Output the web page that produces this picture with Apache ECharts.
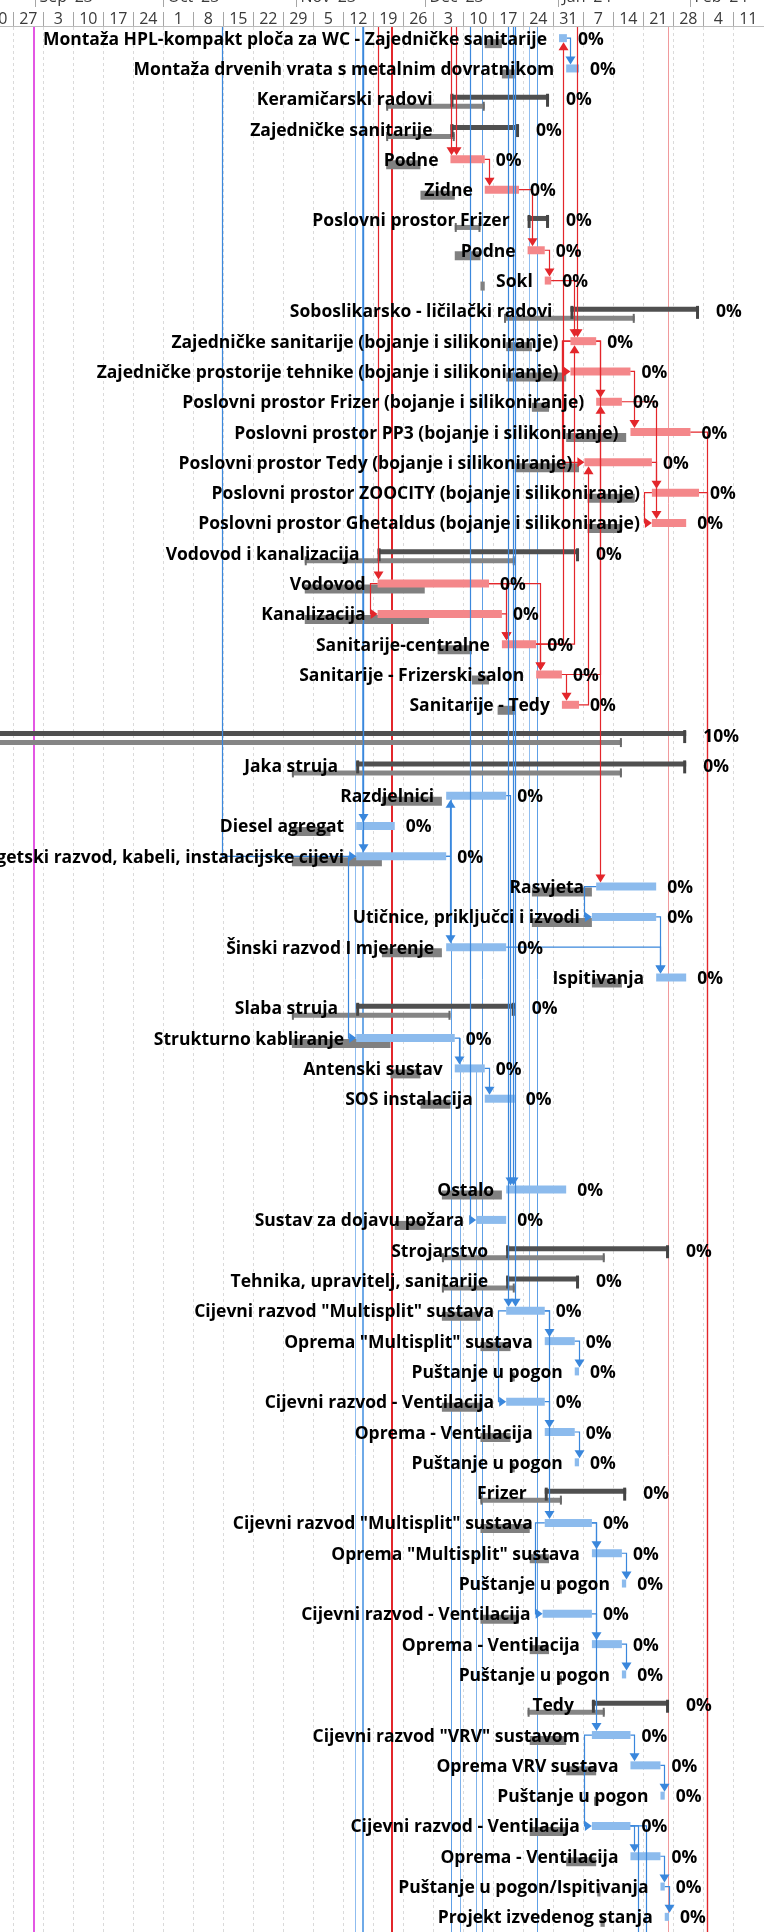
<!DOCTYPE html>
<html>
<head>
<meta charset="utf-8">
<script src="https://cdn.jsdelivr.net/npm/echarts@6/dist/echarts.min.js"></script>
<style>
  html, body { margin: 0; padding: 0; background: #ffffff; }
  #chart { width: 764px; height: 1932px; }
</style>
</head>
<body>
<div id="chart"></div>
<script>
// ---------- timescale ----------
const weekDates = ['2023-08-20','2023-08-27','2023-09-03','2023-09-10','2023-09-17','2023-09-24',
  '2023-10-01','2023-10-08','2023-10-15','2023-10-22','2023-10-29','2023-11-05','2023-11-12',
  '2023-11-19','2023-11-26','2023-12-03','2023-12-10','2023-12-17','2023-12-24','2023-12-31',
  '2024-01-07','2024-01-14','2024-01-21','2024-01-28','2024-02-04','2024-02-11'];
const weekLabels = ['20','27','3','10','17','24','1','8','15','22','29','5','12',
  '19','26','3','10','17','24','31','7','14','21','28','4','11'];
const monthDates = ['2023-09-01','2023-10-01','2023-11-01','2023-12-01','2024-01-01','2024-02-01'];
const monthLabels = ["Sep '23","Oct '23","Nov '23","Dec '23","Jan '24","Feb '24"];

// ---------- tasks ----------
const taskNames = [
  'Montaža HPL-kompakt ploča za WC - Zajedničke sanitarije',
  'Montaža drvenih vrata s metalnim dovratnikom',
  'Keramičarski radovi',
  'Zajedničke sanitarije',
  'Podne',
  'Zidne',
  'Poslovni prostor Frizer',
  'Podne',
  'Sokl',
  'Soboslikarsko - ličilački radovi',
  'Zajedničke sanitarije (bojanje i silikoniranje)',
  'Zajedničke prostorije tehnike (bojanje i silikoniranje)',
  'Poslovni prostor Frizer (bojanje i silikoniranje)',
  'Poslovni prostor PP3 (bojanje i silikoniranje)',
  'Poslovni prostor Tedy (bojanje i silikoniranje)',
  'Poslovni prostor ZOOCITY (bojanje i silikoniranje)',
  'Poslovni prostor Ghetaldus (bojanje i silikoniranje)',
  'Vodovod i kanalizacija',
  'Vodovod',
  'Kanalizacija',
  'Sanitarije-centralne',
  'Sanitarije - Frizerski salon',
  'Sanitarije - Tedy',
  'Elektroinstalacije',
  'Jaka struja',
  'Razdjelnici',
  'Diesel agregat',
  'Energetski razvod, kabeli, instalacijske cijevi',
  'Rasvjeta',
  'Utičnice, priključci i izvodi',
  'Šinski razvod I mjerenje',
  'Ispitivanja',
  'Slaba struja',
  'Strukturno kabliranje',
  'Antenski sustav',
  'SOS instalacija',
  '',
  '',
  'Ostalo',
  'Sustav za dojavu požara',
  'Strojarstvo',
  'Tehnika, upravitelj, sanitarije',
  'Cijevni razvod "Multisplit" sustava',
  'Oprema "Multisplit" sustava',
  'Puštanje u pogon',
  'Cijevni razvod - Ventilacija',
  'Oprema - Ventilacija',
  'Puštanje u pogon',
  'Frizer',
  'Cijevni razvod "Multisplit" sustava',
  'Oprema "Multisplit" sustava',
  'Puštanje u pogon',
  'Cijevni razvod - Ventilacija',
  'Oprema - Ventilacija',
  'Puštanje u pogon',
  'Tedy',
  'Cijevni razvod "VRV" sustavom',
  'Oprema VRV sustava',
  'Puštanje u pogon',
  'Cijevni razvod - Ventilacija',
  'Oprema - Ventilacija',
  'Puštanje u pogon/Ispitivanja',
  'Projekt izvedenog stanja'
];
// C = critical task, N = task, S = summary, '' = blank row
const taskKinds = ['N','N','S','S','C','C','S','C','C','S',
  'C','C','C','C','C','C','C','S','C','C',
  'C','C','C','S','S','N','N','N','N','N',
  'N','N','S','N','N','N','','','N','N',
  'S','S','N','N','N','N','N','N','S','N',
  'N','N','N','N','N','S','N','N','N','N',
  'N','N','N'];
const taskStart = ['2024-01-01 08:00','2024-01-03','2023-12-07','2023-12-07','2023-12-07','2023-12-15','2023-12-25','2023-12-25','2023-12-29','2024-01-04',
  '2024-01-04','2024-01-04','2024-01-10','2024-01-18','2024-01-07 06:00','2024-01-23','2024-01-23','2023-11-20','2023-11-20','2023-11-20',
  '2023-12-19','2023-12-27','2024-01-02','2023-07-01','2023-11-15','2023-12-06','2023-11-15','2023-11-15','2024-01-10','2024-01-09',
  '2023-12-06','2024-01-24','2023-11-15','2023-11-15','2023-12-08','2023-12-15','','','2023-12-20','2023-12-13',
  '2023-12-20','2023-12-20','2023-12-20','2023-12-29','2024-01-05','2023-12-20','2023-12-29','2024-01-05','2023-12-29','2023-12-29',
  '2024-01-09','2024-01-16','2023-12-28 12:00','2024-01-09','2024-01-16','2024-01-09','2024-01-09','2024-01-18','2024-01-25','2024-01-09',
  '2024-01-18','2024-01-25','2024-01-26'];
const taskEnd = ['2024-01-03 04:00','2024-01-06','2023-12-30','2023-12-23','2023-12-15','2023-12-23','2023-12-30','2023-12-29','2023-12-30 12:00','2024-02-03',
  '2024-01-10','2024-01-18','2024-01-16','2024-02-01','2024-01-23','2024-02-03','2024-01-31','2024-01-06','2023-12-16','2023-12-19',
  '2023-12-27','2024-01-02','2024-01-06','2024-01-31','2024-01-31','2023-12-20','2023-11-24','2023-12-06','2024-01-24','2024-01-24',
  '2023-12-20','2024-01-31','2023-12-22','2023-12-08','2023-12-15','2023-12-22','','','2024-01-03','2023-12-20',
  '2024-01-27','2024-01-06','2023-12-29','2024-01-05','2024-01-06','2023-12-29','2024-01-05','2024-01-06','2024-01-17','2024-01-09',
  '2024-01-16','2024-01-17','2024-01-09','2024-01-16','2024-01-17','2024-01-27','2024-01-18','2024-01-25','2024-01-26','2024-01-18',
  '2024-01-25','2024-01-26','2024-01-27'];
const baseStart = ['2023-12-15','2023-12-19','2023-11-22','2023-11-22','2023-11-22','2023-11-30','2023-12-08','2023-12-08','2023-12-14','2023-12-19 12:00',
  '2023-12-20','2023-12-20','2023-12-26','2024-01-03','2023-12-22','2024-01-08','2024-01-08','2023-11-03','2023-11-03','2023-11-03',
  '2023-12-04','2023-12-12','2023-12-18','2023-07-01','2023-10-31','2023-11-21','2023-10-31','2023-10-31','2023-12-26','2023-12-26',
  '2023-11-21','2024-01-09','2023-10-31','2023-10-31','2023-11-23','2023-11-30','','','2023-12-05','2023-11-24',
  '2023-12-05','2023-12-05','2023-12-05','2023-12-14','2023-12-21','2023-12-05','2023-12-14','2023-12-21','2023-12-14','2023-12-14',
  '2023-12-25 12:00','2024-01-01','2023-12-14','2023-12-25 12:00','2024-01-01','2023-12-25','2023-12-25 12:00','2024-01-03','2024-01-09 12:00','2023-12-25 12:00',
  '2024-01-03','2024-01-10 06:00','2024-01-11'];
const baseEnd = ['2023-12-19','2023-12-22','2023-12-15','2023-12-08','2023-11-30','2023-12-08','2023-12-14','2023-12-14','2023-12-15','2024-01-19',
  '2023-12-26','2024-01-03','2023-12-30','2024-01-17','2024-01-06','2024-01-19','2024-01-16','2023-12-22','2023-12-01','2023-12-02',
  '2023-12-12','2023-12-16','2023-12-22','2024-01-16','2024-01-16','2023-12-05','2023-11-09','2023-11-21','2024-01-09','2024-01-09',
  '2023-12-05','2024-01-16','2023-12-07','2023-11-23','2023-11-30','2023-12-07','','','2023-12-19','2023-12-01',
  '2024-01-12','2023-12-22','2023-12-14','2023-12-21','2023-12-22','2023-12-14','2023-12-21','2023-12-22','2024-01-02','2023-12-25 12:00',
  '2023-12-30','2024-01-02','2023-12-23','2023-12-30','2024-01-02','2024-01-12','2024-01-03','2024-01-10','2024-01-10 12:00','2024-01-03',
  '2024-01-10','2024-01-11','2024-01-12'];
const taskPct = taskKinds.map((k, i) => (k ? (i === 23 ? '10%' : '0%') : ''));

// ---------- dependencies between rows (1-based) ----------
const linkFrom = [5, 6, 8, 9, 21, 11, 12, 13, 15, 11, 11, 16, 23, 22, 19, 20, 19, 21, 19, 22, 21, 11,
  1, 28, 28, 26, 28, 34, 35, 29, 30, 31, 43, 44, 46, 47, 43, 43, 50, 51, 50, 53, 54, 50, 57, 58, 57, 60, 61, 62];
const linkTo = [6, 8, 9, 11, 11, 13, 14, 16, 17, 12, 15, 17, 15, 13, 21, 21, 20, 22, 22, 23, 1, 29,
  2, 26, 31, 39, 34, 35, 36, 30, 32, 32, 44, 45, 47, 48, 46, 50, 51, 52, 53, 54, 55, 57, 58, 59, 60, 61, 62, 63];
const linkKind = ['FS','FS','FS','FS','FS','FS','FS','FS','FS','SS','SS','SS','FS','FS','FS','FS','SS','FS','FS','FS','FS','FS',
  'FS','FS','FS','FS','SS','FS','FS','SS','FS','FS','FS','FS','FS','FS','SS','FS','FS','FS','SS','FS','FS','FS','FS','FS','SS','FS','FS','FS'];

// links arriving from tasks above the visible rows
const inTo    = [5, 5, 19, 27, 28, 28, 39, 40, 43, 43, 11];
const inDate  = ['2023-12-07 02:00','2023-12-08 06:00','2023-11-20','2023-11-16 14:00','2023-11-16 14:00',
  '2023-10-14 17:00','2023-12-21 14:00','2023-12-11 14:00','2023-12-20 10:00','2023-12-22','2024-01-05 12:00'];
const inColor = ['r','r','r','b','b','b','b','b','b','b','r'];
const inEntry = ['down','down','down','down','down','side','down','side','down','down','down'];

// links leaving to tasks below the visible rows
const outFrom  = [14, 16, 60, 60];
const outDate  = ['2024-02-04 22:00','2024-02-04 22:00','2024-01-19 19:00','2024-01-21 14:00'];
const outColor = ['r','r','b','b'];

// connector lines passing through the view (row 0 = top edge, 64 = bottom edge)
const runDate  = ['2023-08-31 21:30','2023-11-14 20:10','2023-11-16 14:10','2023-11-23 08:40','2024-01-26 18:15',
  '2023-12-27 04:50','2023-12-14 11:20','2023-12-07 03:00','2023-12-09 08:00','2023-12-13','2023-12-25 08:00'];
const runFrom  = [0, 0, 0, 0, 0, 0, 0, 26, 34, 35, 0];
const runTo    = [64, 64, 64, 64, 64, 64, 64, 64, 64, 64, 43];
const runColor = ['#e357e3','#8fbdf0','#3f8ee0','#e3262b','#f09a9c','#5d9fe6','#5d9fe6','#5d9fe6','#7fb2ea','#7fb2ea','#8fbdf0'];
const runWidth = [2, 1, 1.5, 2, 1, 1, 1, 1, 1, 1, 1];

// ---------- helpers ----------
function T(s) {
  const p = s.split(/[- :]/).map(Number);
  return Date.UTC(p[0], p[1] - 1, p[2], p[3] || 0, p[4] || 0);
}
const X_MIN = Date.UTC(2023, 7, 23, 21, 20);
const X_MAX = Date.UTC(2024, 1, 18, 3, 50);
const HEAD = 27;
const H = 1932;
const FONT = '700 17.5px "Open Sans"';
const COL = {
  crit: '#f4878a', task: '#8cbbed', base: '#808080', sum: '#505050', baseSum: '#858585',
  grid: '#dadada'
};
const LINE = { r: '#e3262b', b: '#3a87dc' };

const rect = (x, y, w, h, fill) => ({ type: 'rect', shape: { x, y, width: w, height: h }, style: { fill } });
const vline = (x, y1, y2, stroke, w) => ({ type: 'line', shape: { x1: x, y1, x2: x, y2 }, style: { stroke, lineWidth: w } });
const crisp = x => Math.round(x) + 0.5;

function px(api, d, row) { return api.coord([T(d), row === undefined ? 1 : row]); }
function rowY(api, row) { return api.coord([X_MIN, row])[1]; }

function arrowDown(x, tipY, fill) {
  return { type: 'polygon', shape: { points: [[x - 5, tipY - 8], [x + 5, tipY - 8], [x, tipY]] }, style: { fill } };
}
function arrowUp(x, tipY, fill) {
  return { type: 'polygon', shape: { points: [[x - 5, tipY + 8], [x + 5, tipY + 8], [x, tipY]] }, style: { fill } };
}
function arrowRight(tipX, y, fill) {
  return { type: 'polygon', shape: { points: [[tipX - 7, y - 5], [tipX - 7, y + 5], [tipX, y]] }, style: { fill } };
}
function poly(points, stroke) {
  return { type: 'polyline', shape: { points }, style: { stroke, lineWidth: 1.2, fill: null } };
}

// ---------- render: week grid ----------
function renderGrid(params, api) {
  const x = crisp(px(api, weekDates[params.dataIndex])[0]);
  return { type: 'line', shape: { x1: x, y1: HEAD, x2: x, y2: H },
    style: { stroke: COL.grid, lineWidth: 1, lineDash: [3, 3] } };
}

// ---------- render: bars ----------
function renderBars(params, api) {
  const i = params.dataIndex, kind = taskKinds[i];
  if (!kind) return null;
  const row = i + 1;
  const c = rowY(api, row);
  const s = px(api, taskStart[i], row)[0], e = px(api, taskEnd[i], row)[0];
  const bs = px(api, baseStart[i], row)[0], be = px(api, baseEnd[i], row)[0];
  const ch = [];
  if (kind === 'S') {
    ch.push(rect(bs, c + 5, be - bs, 5, COL.baseSum));
    ch.push(rect(bs, c + 3, 2, 9, '#6a6a6a'), rect(be - 2, c + 3, 2, 9, '#6a6a6a'));
    ch.push(rect(s, c - 4, e - s, 5, COL.sum));
    ch.push(rect(s, c - 5, 3, 13, '#444444'), rect(e - 3, c - 5, 3, 13, '#444444'));
  } else {
    ch.push(rect(bs, c + 1, Math.max(be - bs, 2), 9, COL.base));
    ch.push(rect(s, c - 4, Math.max(e - s, 2), 8, kind === 'C' ? COL.crit : COL.task));
  }
  return { type: 'group', children: ch };
}

// ---------- render: labels ----------
function renderLabels(params, api) {
  const i = params.dataIndex, kind = taskKinds[i];
  if (!kind) return null;
  const row = i + 1;
  const c = rowY(api, row);
  const s = px(api, taskStart[i], row)[0], e = px(api, taskEnd[i], row)[0];
  const gap = kind === 'S' ? 18 : 12;
  const gapR = kind === 'S' ? 17 : 11;
  return { type: 'group', children: [
    { type: 'text', style: { x: s - gap, y: c + 1.5, text: taskNames[i], font: FONT, fill: '#000',
      textAlign: 'right', textVerticalAlign: 'middle' } },
    { type: 'text', style: { x: e + gapR, y: c + 1.5, text: taskPct[i], font: FONT, fill: '#000',
      textAlign: 'left', textVerticalAlign: 'middle' } }
  ] };
}

// ---------- render: dependency links ----------
function renderLinks(params, api) {
  const k = params.dataIndex;
  const a = linkFrom[k], b = linkTo[k];
  const p = a - 1, q = b - 1;
  const color = taskKinds[p] === 'C' ? LINE.r : LINE.b;
  const cp = rowY(api, a), cs = rowY(api, b);
  const pS = px(api, taskStart[p], a)[0], pE = px(api, taskEnd[p], a)[0], sS = px(api, taskStart[q], b)[0];
  const ch = [];
  if (linkKind[k] === 'SS') {
    const xl = crisp(Math.min(pS, sS) - 8);
    ch.push(poly([[pS, cp], [xl, cp], [xl, cs], [sS - 6, cs]], color), arrowRight(sS, cs, color));
  } else {
    const xv = crisp(sS + 4);
    if (b > a) {
      if (xv >= pE + 2) {
        ch.push(poly([[pE, cp], [xv, cp], [xv, cs - 11]], color), arrowDown(xv, cs - 4, color));
      } else {
        const xr = crisp(pE + 6), ym = cs - 15, xl = crisp(sS - 9);
        ch.push(poly([[pE, cp], [xr, cp], [xr, ym], [xl, ym], [xl, cs], [sS - 6, cs]], color), arrowRight(sS, cs, color));
      }
    } else {
      ch.push(poly([[pE, cp], [xv, cp], [xv, cs + 11]], color), arrowUp(xv, cs + 4, color));
    }
  }
  return { type: 'group', children: ch };
}

function renderIn(params, api) {
  const k = params.dataIndex, row = inTo[k];
  const c = rowY(api, row), color = LINE[inColor[k]];
  const x = crisp(px(api, inDate[k], row)[0]);
  if (inEntry[k] === 'side') {
    const sS = px(api, taskStart[row - 1], row)[0];
    return { type: 'group', children: [poly([[x, HEAD], [x, c], [sS - 6, c]], color), arrowRight(sS, c, color)] };
  }
  return { type: 'group', children: [poly([[x, HEAD], [x, c - 11]], color), arrowDown(x, c - 4, color)] };
}

function renderOut(params, api) {
  const k = params.dataIndex, row = outFrom[k];
  const c = rowY(api, row), color = LINE[outColor[k]];
  const e = px(api, taskEnd[row - 1], row)[0];
  const x = crisp(px(api, outDate[k], row)[0]);
  return poly([[e, c], [x, c], [x, H]], color);
}

function renderRuns(params, api) {
  const k = params.dataIndex;
  const x = px(api, runDate[k])[0];
  const xs = runWidth[k] % 2 === 1 ? crisp(x) : Math.round(x);
  const y1 = runFrom[k] <= 0 ? HEAD : rowY(api, runFrom[k]);
  const y2 = runTo[k] >= 64 ? H : rowY(api, runTo[k]);
  return vline(xs, y1, y2, runColor[k], runWidth[k]);
}

// ---------- render: timescale header ----------
function renderHeader(params, api) {
  const ch = [rect(0, 0, 764, HEAD, '#ffffff')];
  const halfWeek = (px(api, '2023-08-27')[0] - px(api, '2023-08-20')[0]) / 2;
  monthDates.forEach((d, i) => {
    const x = crisp(px(api, d)[0]);
    ch.push(vline(x, 0, 7, '#a6a6a6', 1));
    ch.push({ type: 'text', style: { x: x + 4, y: -3, text: monthLabels[i], font: '400 16px "Open Sans"',
      fill: '#3a3a3a', textAlign: 'left', textVerticalAlign: 'middle' } });
  });
  weekDates.forEach((d, i) => {
    const x0 = px(api, d)[0];
    ch.push(vline(crisp(x0), 12, HEAD, '#a6a6a6', 1));
    ch.push({ type: 'text', style: { x: x0 + halfWeek, y: 19, text: weekLabels[i], font: '400 16px "Open Sans"',
      fill: '#3a3a3a', textAlign: 'center', textVerticalAlign: 'middle' } });
  });
  ch.push({ type: 'line', shape: { x1: 0, y1: HEAD - 0.5, x2: 764, y2: HEAD - 0.5 }, style: { stroke: '#bdbdbd', lineWidth: 1 } });
  return { type: 'group', children: ch };
}

// ---------- chart ----------
const chart = echarts.init(document.getElementById('chart'), null, { renderer: 'canvas' });
const idx = arr => arr.map(() => [X_MIN, 1]);
const custom = (name, z, data, renderItem) => ({ type: 'custom', name, z, data, renderItem, silent: true, clip: false });

chart.setOption({
  animation: false,
  backgroundColor: '#ffffff',
  grid: { left: 0, right: 0, top: 23, height: 1912 },
  xAxis: { type: 'time', min: X_MIN, max: X_MAX, show: false },
  yAxis: { type: 'value', min: 0.5, max: 63.5, inverse: true, show: false },
  series: [
    custom('grid', 1, idx(weekDates), renderGrid),
    custom('runs', 2, idx(runDate), renderRuns),
    custom('bars', 3, idx(taskNames), renderBars),
    custom('links', 4, idx(linkFrom), renderLinks),
    custom('incoming', 4, idx(inTo), renderIn),
    custom('outgoing', 4, idx(outFrom), renderOut),
    custom('labels', 6, idx(taskNames), renderLabels),
    custom('header', 10, [[X_MIN, 1]], renderHeader)
  ]
});
</script>
</body>
</html>
